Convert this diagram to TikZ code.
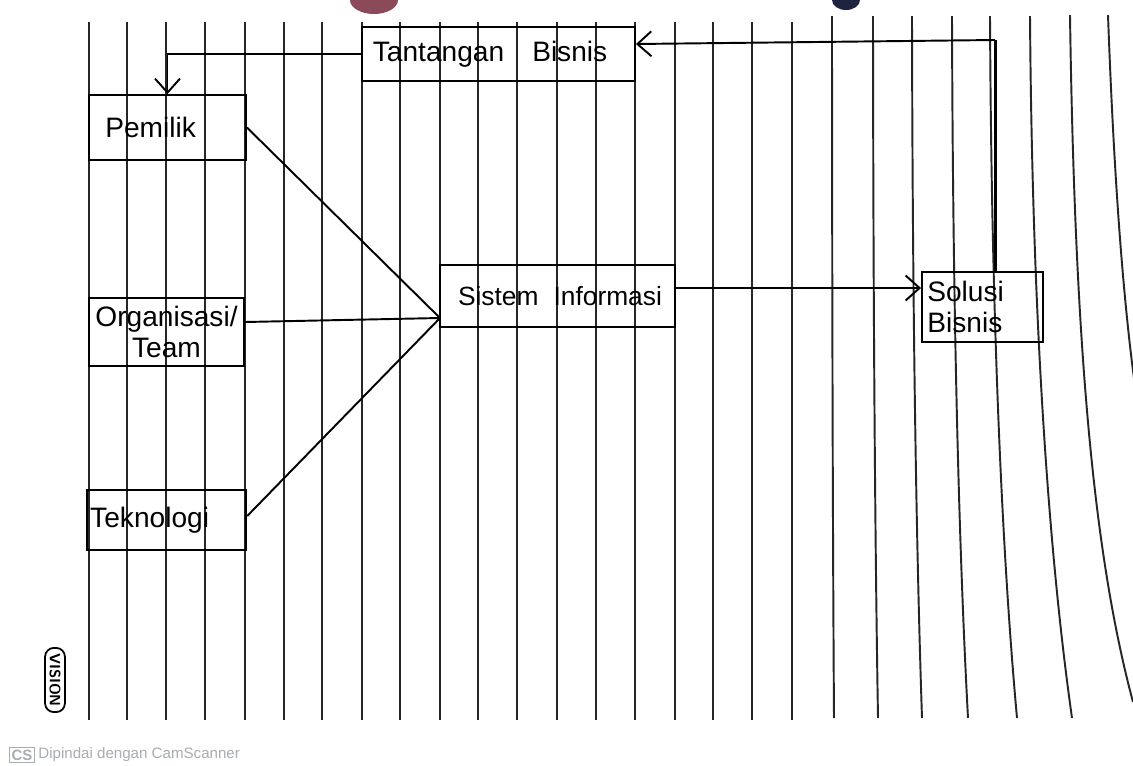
\documentclass[tikz,border=0pt]{standalone}
\usepackage{fontspec}
\setmainfont{Liberation Sans}
\usetikzlibrary{arrows.meta,calc}
\definecolor{maroonblob}{HTML}{8A4A5A}
\definecolor{navyblob}{HTML}{1E2440}
\definecolor{footgray}{HTML}{A8ADB2}
\begin{document}
\begin{tikzpicture}[x=0.02cm,y=-0.02cm,
  rule/.style={line width=1.1pt,black!85},
  box/.style={draw,line width=1.1pt,inner sep=2pt,font=\fontsize{16}{18}\selectfont,align=center},
  conn/.style={line width=1.1pt},
  arr/.style={conn,-{Straight Barb[length=0.28cm,width=0.5cm,line width=1.1pt]}}]
\useasboundingbox[fill=white] (0,0) rectangle (1133,765);
% binder blobs
\begin{scope}
\clip (0,0) rectangle (1133,765);
\fill[maroonblob] (374,0) ellipse [x radius=24, y radius=14];
\fill[navyblob] (846,0) ellipse [x radius=14, y radius=10];
\end{scope}
% ruled paper lines
\foreach \x in {89,127,166,205,245,284,322,362,400,440,478,517,557,596,635,675,713,752,792}
  \draw[rule] (\x,22) -- (\x,720);
\foreach \a/\b in {832/834,873/878,912/922,952/968,990/1017,1030/1072}
  \draw[rule] (\a,16) .. controls ({\a+0.05*(\b-\a)},300) and ({\a+0.4*(\b-\a)},540) .. (\b,718);
\begin{scope}
\clip (0,0) rectangle (1133,765);
\draw[rule] (1070,15) .. controls (1075,360) and (1095,560) .. (1133,702);
\draw[rule] (1108,15) .. controls (1114,180) and (1124,320) .. (1140,420);
\end{scope}
% nodes
\node[box,minimum width=5.46cm,minimum height=1.08cm] (tant) at (498.5,54) {\hspace*{-0.6em}Tantangan\quad Bisnis};
\node[box,minimum width=3.14cm,minimum height=1.3cm] (pem) at (167.5,127.5) {Pemilik\hspace*{1.2em}};
\node[box,minimum width=3.1cm,minimum height=1.36cm] (org) at (166.5,332) {Organisasi/\\Team};
\node[box,minimum width=3.1cm,minimum height=1.2cm] (tek) at (166.5,520) {Teknologi\hspace*{1.2em}};
\node[box,inner sep=0pt,text width=4.7cm,align=left,minimum height=1.24cm,font=\fontsize{15}{18}\selectfont] (sis) at (557.5,296) {\hspace*{0.36cm}Sistem\hspace*{0.3cm}Informasi};
\node[box,minimum width=2.42cm,minimum height=1.4cm,align=left] (sol) at (982.5,307) {Solusi\hspace*{1.2em}\\Bisnis\hspace*{1.2em}};
% connectors
\coordinate (hub) at (440,318);
\draw[arr] (tant.west) -| (pem.north);
\coordinate (solTop) at (995,272);
\coordinate (solUp) at (995,40);
\draw[conn,line width=1.7pt] (solTop) -- (solUp);
\draw[arr] (solUp) -- ([yshift=0.2cm]tant.east);
\draw[conn] (pem.east) -- (hub);
\draw[conn] ([yshift=0.2cm]org.east) -- (hub);
\draw[conn] ([yshift=0.08cm]tek.east) -- (hub);
\draw[arr] ([yshift=0.16cm]sis.east) -- ([yshift=0.16cm]sis.east -| sol.west);
% scanner marks
\node[draw,rounded corners=5pt,line width=1pt,inner xsep=3pt,inner ysep=2.5pt,rotate=-90,font=\sffamily\bfseries\fontsize{8.5}{9}\selectfont] (vision) at (55,680) {VISION};
\node[draw=footgray,line width=0.8pt,inner sep=1.2pt,text=footgray,font=\bfseries\fontsize{8.5}{10}\selectfont] (cs) at (22,755) {CS};
\node[anchor=west,text=footgray,inner sep=0pt,font=\fontsize{8.6}{10}\selectfont] (foot) at (38,755) {Dipindai dengan CamScanner};
\end{tikzpicture}
\end{document}
